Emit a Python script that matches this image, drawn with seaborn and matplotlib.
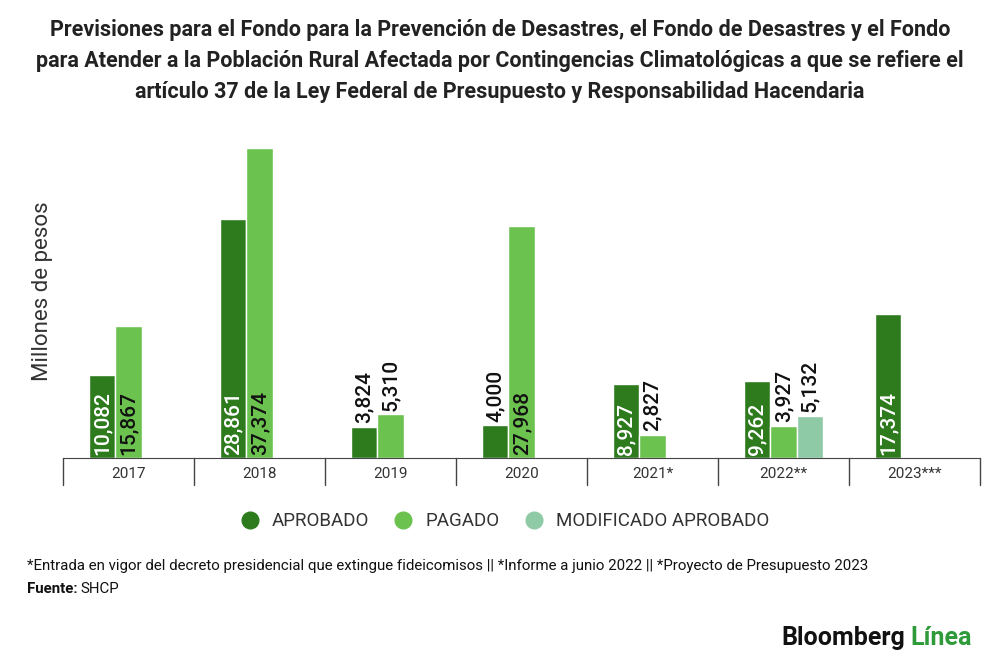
import matplotlib
matplotlib.use("Agg")
import matplotlib.pyplot as plt
import seaborn as sns
import pandas as pd
import numpy as np
from matplotlib.transforms import blended_transform_factory
from matplotlib.lines import Line2D

years = ["2017", "2018", "2019", "2020", "2021*", "2022**", "2023***"]
aprobado = [10082, 28861, 3824, 4000, 8927, 9262, 17374]
pagado = [15867, 37374, 5310, 27968, 2827, 3927, np.nan]
modificado = [np.nan, np.nan, np.nan, np.nan, np.nan, 5132, np.nan]
series = ["APROBADO", "PAGADO", "MODIFICADO APROBADO"]
colors = ["#2e7b1e", "#6cc24f", "#8fcaa6"]
txtcol = ["white", "#111111", "#111111"]

rows = []
for i, y in enumerate(years):
    for s, vals in zip(series, [aprobado, pagado, modificado]):
        rows.append({"year": y, "serie": s, "valor": vals[i]})
df = pd.DataFrame(rows)

sns.set_style("white")
plt.rcParams["font.family"] = ["Roboto", "DejaVu Sans"]
fig = plt.figure(figsize=(10, 6.69), dpi=100)
ax = fig.add_axes([0.063, 0.315, 0.917, 0.476])
sns.barplot(data=df, x="year", y="valor", hue="serie", hue_order=series,
            palette=colors, width=0.6, ax=ax, legend=False, saturation=1)
ax.set_xlim(-0.5, 6.5)
ax.set_ylim(0, 38340)
for s in ["top", "right", "left"]:
    ax.spines[s].set_visible(False)
ax.spines["bottom"].set_color("#444444")
ax.set_yticks([])
ax.set_xlabel("")
ax.set_ylabel("")
ax.tick_params(axis="x", length=0, pad=6, labelsize=11, colors="#333333")
tr = blended_transform_factory(ax.transData, ax.transAxes)
for xv in np.arange(-0.5, 7, 1):
    ax.add_line(Line2D([xv, xv], [0, -0.085], transform=tr, color="#444444", lw=1, clip_on=False))

for si, cont in enumerate(ax.containers):
    for bar in cont:
        h = bar.get_height()
        if not np.isfinite(h) or h == 0:
            continue
        xc = bar.get_x() + bar.get_width() / 2
        lab = f"{int(h):,}"
        if h > 7000:
            ax.text(xc, 400, lab, rotation=90, ha="center", va="bottom",
                    fontsize=15, fontweight="medium", color=txtcol[si])
        else:
            ax.text(xc, h + 400, lab, rotation=90, ha="center", va="bottom",
                    fontsize=15, fontweight="medium", color="#111111")

fig.text(0.043, 0.565, "Millones de pesos", rotation=90, ha="center", va="center",
         fontsize=16, color="#333333")
fig.text(0.5, 0.972,
         "Previsiones para el Fondo para la Prevención de Desastres, el Fondo de Desastres y el Fondo\n"
         "para Atender a la Población Rural Afectada por Contingencias Climatológicas a que se refiere el\n"
         "artículo 37 de la Ley Federal de Presupuesto y Responsabilidad Hacendaria",
         ha="center", va="top", fontsize=15.5, fontweight="bold", color="#222222", linespacing=1.55)

handles = [Line2D([], [], marker="o", ls="", color=c, markersize=12) for c in colors]
fig.legend(handles, series, loc="center", bbox_to_anchor=(0.5, 0.221), ncol=3, frameon=False,
           fontsize=13.5, handletextpad=0.2, columnspacing=0.8, labelcolor="#333333")

fig.text(0.027, 0.154,
         "*Entrada en vigor del decreto presidencial que extingue fideicomisos || *Informe a junio 2022 || *Proyecto de Presupuesto 2023",
         fontsize=10.8, va="center", color="#111111")
fig.text(0.027, 0.12, "Fuente:", fontsize=10.8, fontweight="bold", va="center", color="#111111")
fig.text(0.08, 0.12, "SHCP", fontsize=10.8, va="center", color="#111111")
fig.text(0.905, 0.046, "Bloomberg", fontsize=18, fontweight="bold", ha="right", va="center", color="#111111")
fig.text(0.91, 0.046, "Línea", fontsize=18, fontweight="bold", ha="left", va="center", color="#2e9a3a")
fig.savefig("out.png", dpi=100)
